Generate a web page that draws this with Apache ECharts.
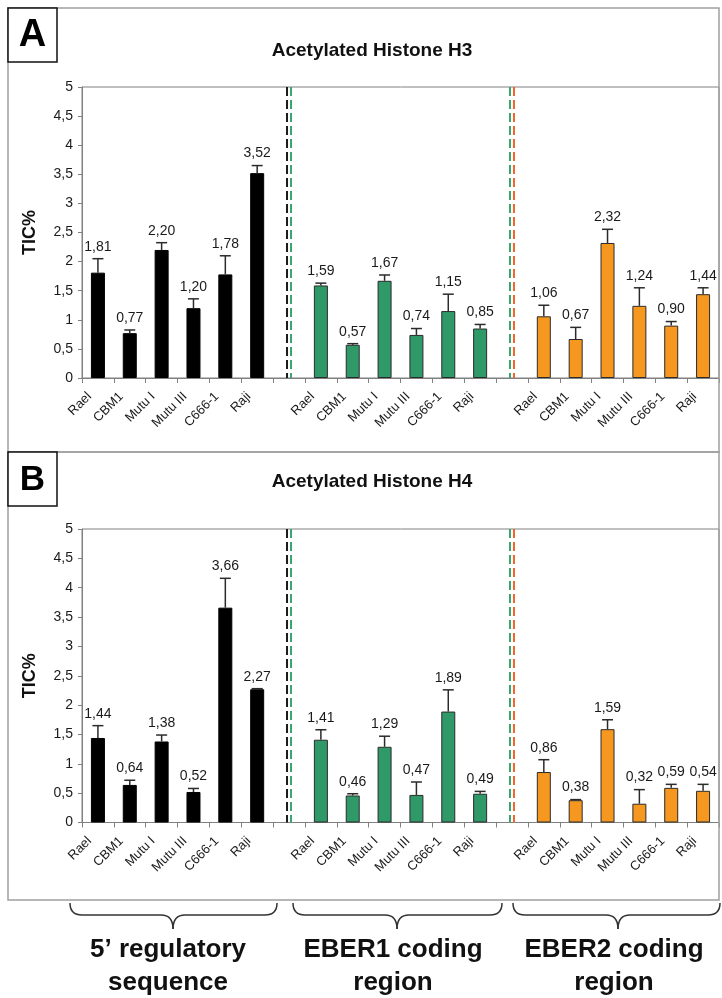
<!DOCTYPE html>
<html><head><meta charset="utf-8">
<script src="https://cdn.jsdelivr.net/npm/echarts@6/dist/echarts.min.js"></script>
<style>html,body{margin:0;padding:0;background:#fff}#c{width:722px;height:998px}</style>
</head><body><div id="c"></div>
<script>
// ---- data ----
const cellLines = ['Rael', 'CBM1', 'Mutu I', 'Mutu III', 'C666-1', 'Raji'];
const regionLabels = ['5\u2019 regulatory\nsequence', 'EBER1 coding\nregion', 'EBER2 coding\nregion'];
const panelTitles = ['Acetylated Histone H3', 'Acetylated Histone H4'];
const panelLetters = ['A', 'B'];
const yMax = 5;
const yStep = 0.5;

const h3_reg = [1.81, 0.77, 2.20, 1.20, 1.78, 3.52];
const h3_reg_err = [0.24, 0.055, 0.125, 0.16, 0.32, 0.13];
const h3_eber1 = [1.59, 0.57, 1.67, 0.74, 1.15, 0.85];
const h3_eber1_err = [0.04, 0.02, 0.10, 0.11, 0.29, 0.07];
const h3_eber2 = [1.06, 0.67, 2.32, 1.24, 0.90, 1.44];
const h3_eber2_err = [0.19, 0.20, 0.235, 0.31, 0.07, 0.11];

const h4_reg = [1.44, 0.64, 1.38, 0.52, 3.66, 2.27];
const h4_reg_err = [0.21, 0.08, 0.11, 0.06, 0.50, 0.01];
const h4_eber1 = [1.41, 0.46, 1.29, 0.47, 1.89, 0.49];
const h4_eber1_err = [0.17, 0.03, 0.18, 0.22, 0.37, 0.04];
const h4_eber2 = [0.86, 0.38, 1.59, 0.32, 0.59, 0.54];
const h4_eber2_err = [0.21, 0.01, 0.16, 0.24, 0.06, 0.11];

// ---- build ----
const FONT = 'Arial, "Liberation Sans", Helvetica, sans-serif';
const categories = [].concat(cellLines, [''], cellLines, [''], cellLines);
const groupColors = ['#000000', '#2f9a67', '#f6981f'];
const groupBorders = ['#000000', '#2b2b2b', '#2b2b2b'];
const sepIndex = [cellLines.length, cellLines.length * 2 + 1];
const sepColors = [['#1a1a1a', '#3aa56f'], ['#3aa56f', '#f2652a']];

const panels = [
  { vals: [h3_reg, h3_eber1, h3_eber2], errs: [h3_reg_err, h3_eber1_err, h3_eber2_err] },
  { vals: [h4_reg, h4_eber1, h4_eber2], errs: [h4_reg_err, h4_eber1_err, h4_eber2_err] }
];

const grids = [
  { left: 82, top: 87, right: 3, height: 291 },
  { left: 82, top: 529, right: 3, height: 293.5 }
];

const fmt = v => v.toFixed(2).replace('.', ',');

const xAxes = [], yAxes = [], series = [];
panels.forEach((p, pi) => {
  xAxes.push({
    type: 'category', gridIndex: pi, data: categories,
    axisLine: { lineStyle: { color: '#808080', width: 1 } },
    axisTick: { show: true, interval: 0, length: 5, lineStyle: { color: '#808080' } },
    axisLabel: { interval: 0, rotate: 45, fontSize: 13, color: '#1a1a1a', fontFamily: FONT,
      margin: 8, padding: [0, 12, 0, 0] },
    splitLine: { show: false }
  });
  yAxes.push({
    type: 'value', gridIndex: pi, min: 0, max: yMax, interval: yStep,
    name: 'TIC%', nameLocation: 'middle', nameGap: 43,
    nameTextStyle: { fontSize: 18, fontWeight: 'bold', color: '#111', fontFamily: FONT },
    axisLine: { show: true, lineStyle: { color: '#808080', width: 1 } },
    axisTick: { show: true, length: 4, lineStyle: { color: '#808080' } },
    axisLabel: { fontSize: 14, color: '#1a1a1a', fontFamily: FONT, margin: 9,
      formatter: v => String(v).replace('.', ',') },
    splitLine: { show: false }
  });
  const errData = [];
  p.vals.forEach((arr, gi) => {
    const offset = gi * (cellLines.length + 1);
    const data = categories.map(() => null);
    arr.forEach((v, i) => {
      data[offset + i] = v;
      errData.push([offset + i, v, p.errs[gi][i]]);
    });
    series.push({
      type: 'bar', xAxisIndex: pi, yAxisIndex: pi, data: data,
      barWidth: 14, barGap: '-100%',
      itemStyle: { color: groupColors[gi], borderColor: groupBorders[gi], borderWidth: 1 },
      silent: true, animation: false
    });
  });
  series.push({
    type: 'custom', xAxisIndex: pi, yAxisIndex: pi, data: errData, z: 5, animation: false,
    renderItem: (params, api) => {
      const c = api.value(0), v = api.value(1), e = api.value(2);
      const base = api.coord([c, v]);
      const top = api.coord([c, v + e]);
      return {
        type: 'group', children: [
          { type: 'line', shape: { x1: base[0], y1: base[1], x2: top[0], y2: top[1] },
            style: { stroke: '#2b2b2b', lineWidth: 1.5 } },
          { type: 'line', shape: { x1: top[0] - 5.5, y1: top[1], x2: top[0] + 5.5, y2: top[1] },
            style: { stroke: '#2b2b2b', lineWidth: 1.5 } },
          { type: 'text', x: top[0], y: top[1] - 12,
            style: { text: fmt(v), fontSize: 14, fill: '#1a1a1a', fontFamily: FONT,
              align: 'center', verticalAlign: 'middle' } }
        ]
      };
    }
  });
  series.push({
    type: 'custom', xAxisIndex: pi, yAxisIndex: pi, z: 4, animation: false,
    data: sepIndex.map((c, k) => [c, k]),
    renderItem: (params, api) => {
      const c = api.value(0), k = api.value(1);
      const b = api.coord([c, 0]);
      const t = api.coord([c, yMax]);
      const cols = sepColors[k];
      return {
        type: 'group', children: [-2, 2].map((dx, j) => ({
          type: 'line', shape: { x1: b[0] + dx, y1: t[1], x2: b[0] + dx, y2: b[1] },
          style: { stroke: cols[j], lineWidth: 2, lineDash: [9, 4] }
        }))
      };
    }
  });
});

// braces & decorations
function braceParts(x1, x2, tip, yTop, yMid, yTip) {
  const r = 12;
  const st = { fill: 'none', stroke: '#333', lineWidth: 1.5 };
  const q = (a, b, c, d, e, f) => ({ type: 'bezierCurve', z: 10,
    shape: { x1: a, y1: b, cpx1: c, cpy1: d, x2: e, y2: f }, style: st });
  const l = (a, b, c, d) => ({ type: 'line', z: 10, shape: { x1: a, y1: b, x2: c, y2: d }, style: st });
  return [
    q(x1, yTop, x1, yMid, x1 + r, yMid),
    l(x1 + r, yMid, tip - r, yMid),
    q(tip - r, yMid, tip, yMid, tip, yTip),
    q(tip, yTip, tip, yMid, tip + r, yMid),
    l(tip + r, yMid, x2 - r, yMid),
    q(x2 - r, yMid, x2, yMid, x2, yTop)
  ];
}
const braces = [[70, 277, 173], [293, 502, 397], [513, 720, 618]];
const graphics = [];
[[8, 8, 711, 444], [8, 452, 711, 448]].forEach(r => graphics.push({
  type: 'rect', shape: { x: r[0], y: r[1], width: r[2], height: r[3] },
  style: { fill: 'none', stroke: '#a0a0a0', lineWidth: 1.5 }, z: 10
}));
[8, 452].forEach((y, i) => {
  graphics.push({ type: 'rect', shape: { x: 8, y: y, width: 49, height: 54 },
    style: { fill: '#fff', stroke: '#111', lineWidth: 1.5 }, z: 11 });
  graphics.push({ type: 'text', x: 32.5, y: y + 28, z: 12,
    style: { text: panelLetters[i], fontSize: i === 0 ? 38 : 35, fontWeight: 'bold', fill: '#000',
      fontFamily: FONT, align: 'center', verticalAlign: 'middle' } });
});
[51, 482].forEach((y, i) => graphics.push({ type: 'text', x: 372, y: y, z: 12,
  style: { text: panelTitles[i], fontSize: 19, fontWeight: 'bold', fill: '#111', fontFamily: FONT,
    align: 'center', verticalAlign: 'middle' } }));
braces.forEach((b, i) => {
  braceParts(b[0], b[1], b[2], 903, 915, 929).forEach(g => graphics.push(g));
  graphics.push({ type: 'text', x: b[2] - 4 + (i === 0 ? -1 : 0), y: 966, z: 12,
    style: { text: regionLabels[i], fontSize: 26, fontWeight: 'bold', fill: '#111', fontFamily: FONT,
      align: 'center', verticalAlign: 'middle', lineHeight: 33 } });
});

const chart = echarts.init(document.getElementById('c'), null, { renderer: 'canvas' });
chart.setOption({
  animation: false,
  backgroundColor: '#fff',
  grid: grids.map(g => Object.assign({ show: true, borderColor: '#808080', borderWidth: 1, backgroundColor: 'transparent' }, g)),
  xAxis: xAxes,
  yAxis: yAxes,
  series: series,
  graphic: graphics
});
</script></body></html>
